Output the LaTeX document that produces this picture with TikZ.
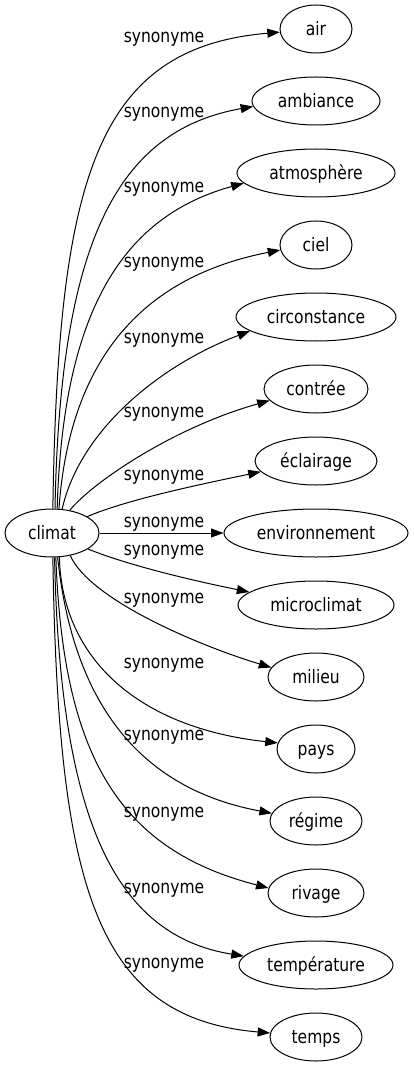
\documentclass[tikz,border=0pt]{standalone}
\usepackage{fontspec}
\setmainfont{DejaVu Sans}[FakeStretch=0.84]
\usetikzlibrary{arrows.meta, shapes.geometric}
\tikzset{
    word-node/.style = {draw, ellipse, line width=1pt, inner sep=0pt, minimum height=48pt, text height=13.5pt, text depth=0.9pt, font=\fontsize{18.5}{20}\selectfont},
    syn-edge/.style = {line width=1pt, -{Triangle[length=12.5pt, width=9pt]}},
    syn-label/.style = {anchor=base, inner sep=0pt, font=\fontsize{18.5}{20}\selectfont},
}

\begin{document}
\begin{tikzpicture}[x=1pt, y=-1pt]
\useasboundingbox (0,0) rectangle (413,1067);
% source word
\node[word-node, minimum width=94pt] (climat) at (52,533) {climat};
% synonyms
\node[word-node, minimum width=72pt] (air) at (316,29) {air};
\node[word-node, minimum width=128pt] (ambiance) at (316,101) {ambiance};
\node[word-node, minimum width=158pt] (atmosphere) at (316,173) {atmosphère};
\node[word-node, minimum width=72pt] (ciel) at (316,245) {ciel};
\node[word-node, minimum width=160pt] (circonstance) at (316,317) {circonstance};
\node[word-node, minimum width=104pt] (contree) at (316,389) {contrée};
\node[word-node, minimum width=122pt] (eclairage) at (316,461) {éclairage};
\node[word-node, minimum width=184pt] (environnement) at (316,533) {environnement};
\node[word-node, minimum width=156pt] (microclimat) at (316,605) {microclimat};
\node[word-node, minimum width=96pt] (milieu) at (316,677) {milieu};
\node[word-node, minimum width=78pt] (pays) at (316,749) {pays};
\node[word-node, minimum width=92pt] (regime) at (316,821) {régime};
\node[word-node, minimum width=96pt] (rivage) at (316,893) {rivage};
\node[word-node, minimum width=154pt] (temperature) at (316,965) {température};
\node[word-node, minimum width=92pt] (temps) at (316,1037) {temps};

% edges
\draw[syn-edge] (climat.88) .. controls (58,180) and (95,48) .. (air.185);
\draw[syn-edge] (climat.83) .. controls (60,248) and (114,131) .. (ambiance.185);
\draw[syn-edge] (climat.78) .. controls (63,307) and (125,216) .. (atmosphere.188);
\draw[syn-edge] (climat.74) .. controls (70,354) and (147,276) .. (ciel.188);
\draw[syn-edge] (climat.67) .. controls (80,430) and (160,365) .. (circonstance.192);
\draw[syn-edge] (climat.52) .. controls (94,481) and (175,427) .. (contree.194);
\draw[syn-edge] (climat.25) .. controls (126,500) and (197,485) .. (eclairage.191);
\draw[syn-edge] (climat.east) -- (environnement.west);
\draw[syn-edge] (climat.336) .. controls (130,566) and (195,581) .. (microclimat.169);
\draw[syn-edge] (climat.309) .. controls (90,600) and (200,646) .. (milieu.168);
\draw[syn-edge] (climat.287) .. controls (62,660) and (140,728) .. (pays.171);
\draw[syn-edge] (climat.283) .. controls (74,712) and (147,790) .. (regime.170);
\draw[syn-edge] (climat.279) .. controls (63,759) and (121,850) .. (rivage.174);
\draw[syn-edge] (climat.276) .. controls (60,818) and (114,935) .. (temperature.173);
\draw[syn-edge] (climat.272) .. controls (58,886) and (95,1018) .. (temps.175);

% edge labels
\node[syn-label] (lbl-air) at (164,43) {synonyme};
\node[syn-label] (lbl-ambiance) at (164,118) {synonyme};
\node[syn-label] (lbl-atmosphere) at (164,193) {synonyme};
\node[syn-label] (lbl-ciel) at (164,267) {synonyme};
\node[syn-label] (lbl-circonstance) at (164,343) {synonyme};
\node[syn-label] (lbl-contree) at (164,417) {synonyme};
\node[syn-label] (lbl-eclairage) at (164,480) {synonyme};
\node[syn-label] (lbl-environnement) at (164,527) {synonyme};
\node[syn-label] (lbl-microclimat) at (164,555) {synonyme};
\node[syn-label] (lbl-milieu) at (164,603) {synonyme};
\node[syn-label] (lbl-pays) at (164,668) {synonyme};
\node[syn-label] (lbl-regime) at (164,740) {synonyme};
\node[syn-label] (lbl-rivage) at (164,817) {synonyme};
\node[syn-label] (lbl-temperature) at (164,893) {synonyme};
\node[syn-label] (lbl-temps) at (164,968) {synonyme};
\end{tikzpicture}
\end{document}
